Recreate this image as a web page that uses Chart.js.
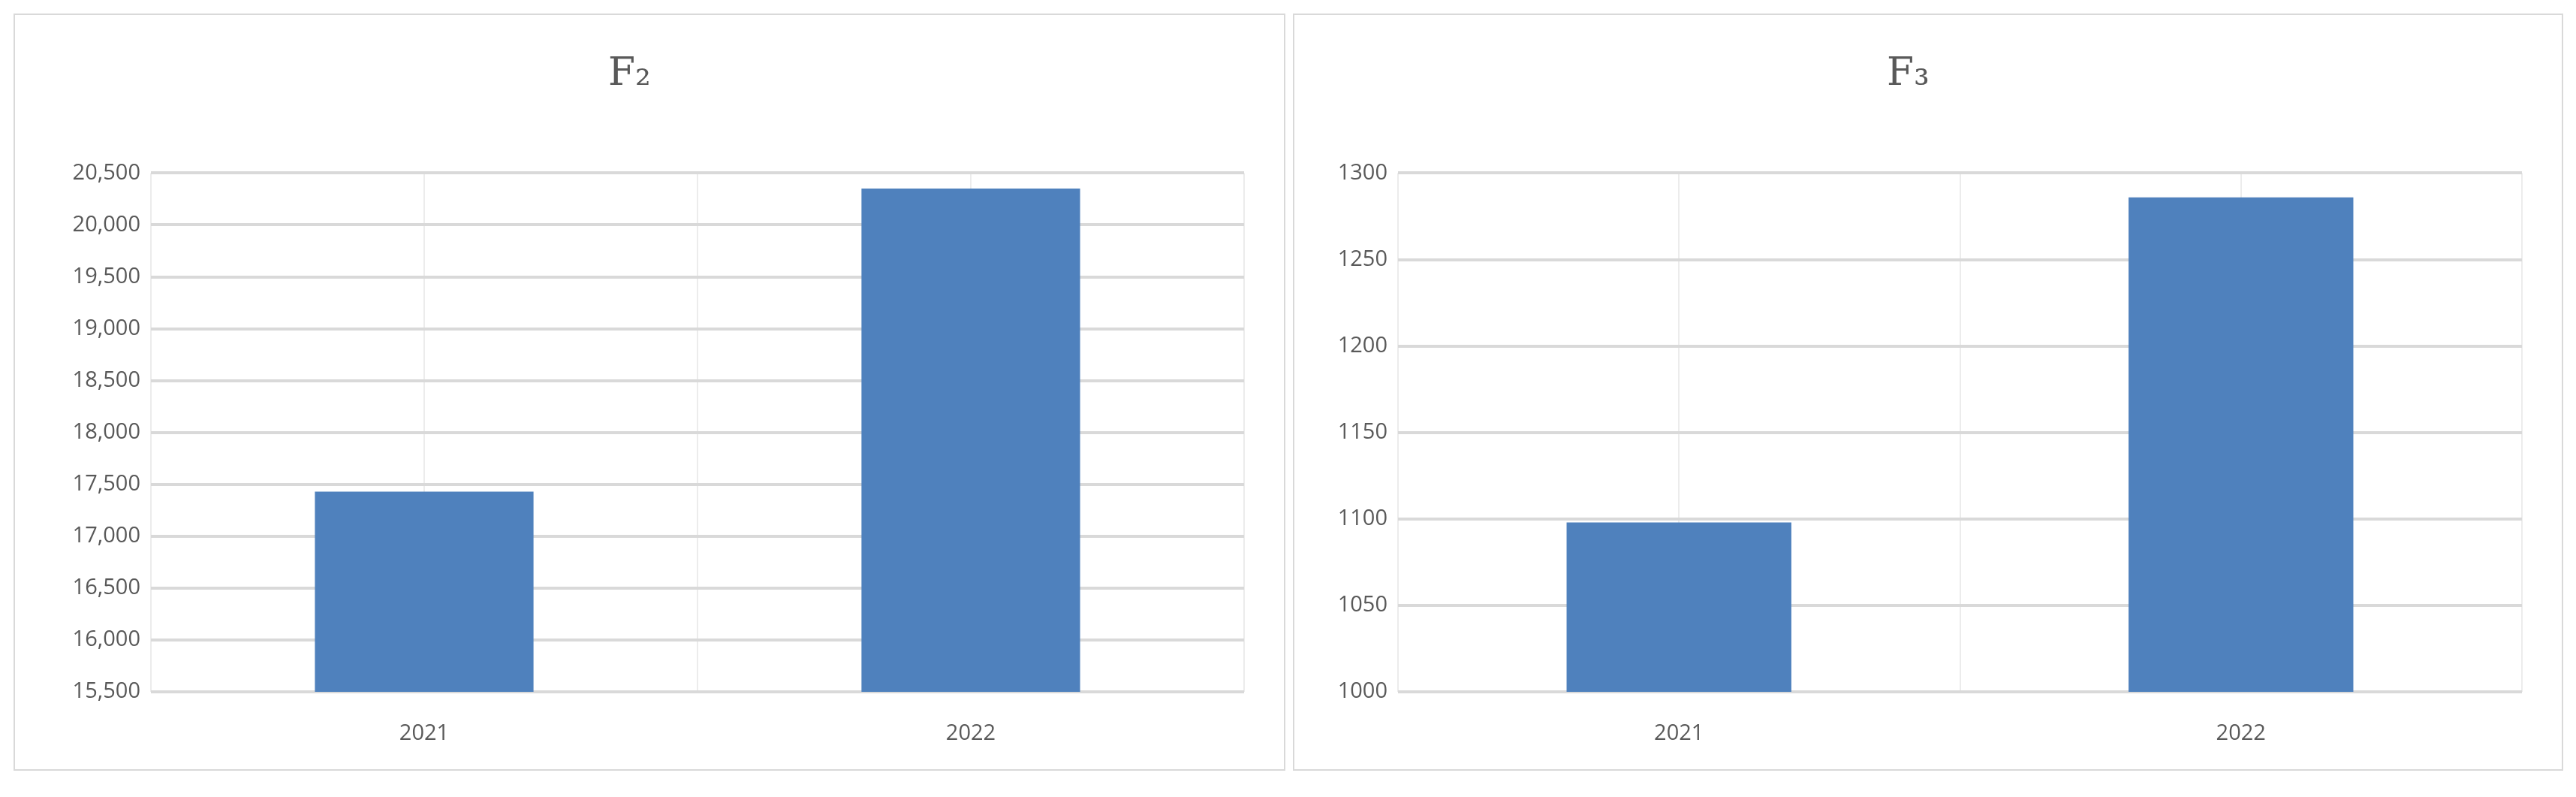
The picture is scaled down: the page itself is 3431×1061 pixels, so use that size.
<!DOCTYPE html>
<html><head><meta charset="utf-8">
<script src="https://cdn.jsdelivr.net/npm/chart.js@4"></script>
<style>
body{margin:0;background:#fff;width:3431px;height:1061px;position:relative;overflow:hidden}
.p{position:absolute;top:18px;height:1008px;border:2px solid #d9d9d9;box-sizing:border-box;background:#fff}
</style></head><body>
<div class="p" style="left:18px;width:1694px"><canvas id="c1"></canvas></div>
<div class="p" style="left:1722px;width:1692px"><canvas id="c2"></canvas></div>
<script>
const categories = ['2021','2022'];
const f2Values = [17430, 20350];
const f3Values = [1098, 1286];
const f2Range = {min:15500, max:20500, step:500};
const f3Range = {min:1000, max:1300, step:50};

function make(id, title, values, range, yWidth, fmt){
  new Chart(document.getElementById(id), {
    type:'bar',
    data:{labels:categories, datasets:[{data:values, backgroundColor:'#4f81bd', barPercentage:0.4, categoryPercentage:1}]},
    options:{
      responsive:true, maintainAspectRatio:false, animation:false,
      layout:{padding:{left:0,right:53,top:0,bottom:0}},
      plugins:{legend:{display:false}, tooltip:{enabled:false},
        title:{display:true, text:title, color:'#595959', font:{family:'DejaVu Serif', size:52, weight:'normal'}, padding:{top:48,bottom:100}}},
      scales:{
        x:{grid:{offset:false, color:'#ececec', lineWidth:2, drawTicks:false}, border:{display:false},
           ticks:{color:'#595959', font:{family:'Open Sans', size:29}, padding:38},
           afterFit:s=>{s.height=103;}},
        x2:{position:'bottom', labels:categories, grid:{offset:true, color:'#ececec', lineWidth:2, drawTicks:false}, border:{display:false},
           ticks:{display:false}, afterFit:s=>{s.height=0;}},
        y:{min:range.min, max:range.max, grid:{color:'#d9d9d9', lineWidth:4, drawTicks:false}, border:{display:false},
           ticks:{stepSize:range.step, color:'#595959', font:{family:'Open Sans', size:29}, padding:14, callback:fmt},
           afterFit:s=>{s.width=yWidth;}}
      }
    }
  });
}
make('c1','F₂',f2Values,f2Range,181,v=>v.toLocaleString('en-US'));
make('c2','F₃',f3Values,f3Range,138,v=>String(v));
</script></body></html>
